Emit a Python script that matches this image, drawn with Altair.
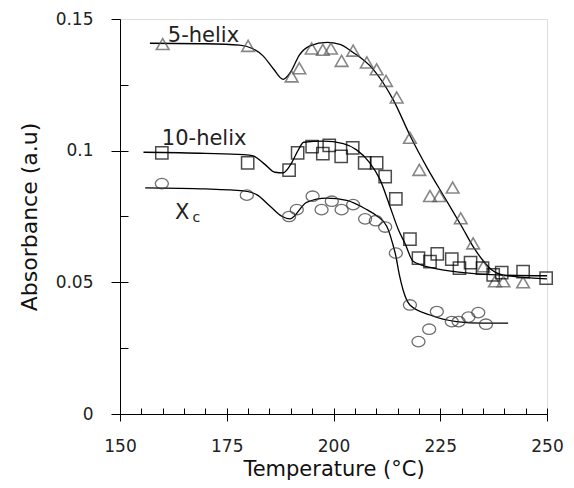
import altair as alt
import pandas as pd

# ---- data ----
tri_x = [160, 180, 190.2, 192, 194.9, 197.5, 199.4, 201.9, 204.6, 207.8, 210.1, 212.3, 214.8,
         217.9, 220.1, 222.6, 224.8, 227.9, 229.8, 232.7, 235.1, 237.8, 239.8, 244.4]
tri_y = [0.1405, 0.1398, 0.1282, 0.1313, 0.1388, 0.1383, 0.1388, 0.1341, 0.1380, 0.1335, 0.1309,
         0.1265, 0.1202, 0.1049, 0.0927, 0.0828, 0.0828, 0.0860, 0.0743, 0.0648, 0.0561, 0.0504,
         0.0504, 0.0500]

sq_x = [159.8, 179.9, 189.6, 191.6, 195.0, 197.5, 199.0, 201.8, 204.5, 207.3, 210.1, 212.1, 214.6,
        217.9, 219.9, 222.6, 224.3, 227.7, 229.5, 232.1, 234.9, 237.4, 239.4, 244.4, 249.8]
sq_y = [0.0992, 0.0954, 0.0926, 0.0992, 0.1015, 0.0989, 0.1020, 0.0978, 0.1011, 0.0954, 0.0954,
        0.0901, 0.0817, 0.0664, 0.0592, 0.0579, 0.0608, 0.0588, 0.0554, 0.0575, 0.0554, 0.0528,
        0.0537, 0.0541, 0.0516]

circ_x = [159.8, 179.7, 189.6, 191.4, 195.1, 197.2, 199.6, 201.9, 204.6, 207.4, 209.9, 212.1, 214.6,
          217.9, 219.9, 222.4, 224.2, 227.7, 229.3, 231.6, 233.9, 235.7]
circ_y = [0.0875, 0.0831, 0.0750, 0.0776, 0.0827, 0.0776, 0.0808, 0.0776, 0.0795, 0.0741, 0.0734,
          0.0710, 0.0611, 0.0414, 0.0275, 0.0322, 0.0389, 0.0351, 0.0351, 0.0368, 0.0385, 0.0341]

h5_cx = [157, 170, 178, 181, 183.5, 186, 188.2, 190, 192, 194.5, 198.5, 201.5, 204.6, 209.3, 214,
         218, 222, 226, 230, 233, 235, 237, 239.5, 243, 250]
h5_cy = [0.1408, 0.1406, 0.1401, 0.1388, 0.1360, 0.1309, 0.1271, 0.1300, 0.1363, 0.1398, 0.1411,
         0.1404, 0.1373, 0.1309, 0.1193, 0.1055, 0.0933, 0.0823, 0.0713, 0.0628, 0.0583, 0.0548,
         0.0528, 0.0521, 0.0513]

h10_cx = [155.5, 170, 178.9, 181.2, 184, 186.3, 188.2, 190.2, 191.8, 193, 197.6, 202.3, 205.4, 208.5,
          210.9, 213.2, 215.2, 216.7, 218.7, 223.4, 230.4, 238.2, 250]
h10_cy = [0.0994, 0.0990, 0.0985, 0.0980, 0.0947, 0.0918, 0.0916, 0.0954, 0.1004, 0.1032, 0.1036,
          0.1027, 0.1003, 0.0954, 0.0890, 0.0789, 0.0700, 0.0649, 0.0579, 0.0554, 0.0537, 0.0528,
          0.0525]

xc_cx = [155.9, 170, 178.9, 182, 185.1, 187.9, 189.8, 193.7, 198.4, 203.1, 207.8, 210.1, 212.5,
         213.8, 214.6, 215.4, 216.3, 217.9, 222.6, 228.8, 235, 240.9]
xc_cy = [0.0859, 0.0855, 0.0847, 0.0833, 0.0790, 0.0751, 0.0741, 0.0804, 0.0820, 0.0811, 0.0776,
         0.0753, 0.0712, 0.0650, 0.0600, 0.0530, 0.0471, 0.0414, 0.0376, 0.0351, 0.0345, 0.0345]

label_text = ["5-helix", "10-helix", "X"]
label_x = [161.2, 159.8, 162.9]
label_y = [0.1414, 0.1023, 0.0741]
sub_text = ["c"]
sub_x = [167.0]
sub_y = [0.0730]

x_ticks = [150, 175, 200, 225, 250]
x_minor = [150 + 5 * i for i in range(21)]
y_ticks = [0, 0.05, 0.1, 0.15]
y_minor = [0.025 * i for i in range(7)]

FONT = "DejaVu Sans"
xs = alt.Scale(domain=[150, 250], nice=False, zero=False)
ys = alt.Scale(domain=[0, 0.15], nice=False)

tri = pd.DataFrame({"x": tri_x, "y": tri_y})
sq = pd.DataFrame({"x": sq_x, "y": sq_y})
circ = pd.DataFrame({"x": circ_x, "y": circ_y})
c5 = pd.DataFrame({"x": h5_cx, "y": h5_cy})
c10 = pd.DataFrame({"x": h10_cx, "y": h10_cy})
cxc = pd.DataFrame({"x": xc_cx, "y": xc_cy})
labs = pd.DataFrame({"x": label_x, "y": label_y, "t": label_text})
subs = pd.DataFrame({"x": sub_x, "y": sub_y, "t": sub_text})
xt = pd.DataFrame({"x": x_minor, "y": [0] * len(x_minor)})

main_x_axis = alt.Axis(values=x_ticks, tickSize=7, labelPadding=17, title="Temperature (°C)",
                       titleFontSize=21, titleFont=FONT, titleFontWeight="normal",
                       titleX=213.5, titleY=61, titleBaseline="alphabetic", titleAnchor="middle",
                       labelFont=FONT, labelFontSize=17, labelColor="#222", titleColor="#111",
                       domainColor="black", tickColor="black", grid=False, labelFlush=False)
main_y_axis = alt.Axis(values=y_ticks, tickSize=9, labelPadding=18, format=".2~f",
                       title="Absorbance (a.u)", titleFontSize=22, titleFont=FONT,
                       titleFontWeight="normal", titleX=-91, titleY=197.5, titleBaseline="middle",
                       titleAlign="center", titleAngle=270,
                       labelFont=FONT, labelFontSize=17,
                       labelColor="#222", titleColor="#111", domainColor="black",
                       tickColor="black", grid=False, labelFlush=False)

def line(df):
    return alt.Chart(df).mark_line(color="black", strokeWidth=1.3, interpolate="monotone").encode(
        x=alt.X("x:Q", scale=xs, axis=None), y=alt.Y("y:Q", scale=ys, axis=None))

axes_layer = alt.Chart(c5).mark_point(opacity=0).encode(
    x=alt.X("x:Q", scale=xs, axis=main_x_axis),
    y=alt.Y("y:Q", scale=ys, axis=main_y_axis))

inner_x = alt.Chart(xt).mark_point(opacity=0).encode(
    x=alt.X("x:Q", scale=xs, axis=alt.Axis(orient="bottom", values=x_minor, tickSize=6, offset=-6,
                                           domain=False, labels=False, title=None, grid=False,
                                           tickColor="black")),
    y=alt.Y("y:Q", scale=ys, axis=alt.Axis(orient="left", values=y_minor, tickSize=8, offset=-8,
                                           domain=False, labels=False, title=None, grid=False,
                                           tickColor="black")))

ellipse = "M-1,0 A1,0.8 0 1,0 1,0 A1,0.8 0 1,0 -1,0 Z"

tri_l = alt.Chart(tri).mark_point(shape="triangle-up", size=160, filled=False, color="#555",
                                  strokeWidth=1.6).encode(
    x=alt.X("x:Q", scale=xs, axis=None), y=alt.Y("y:Q", scale=ys, axis=None))
sq_l = alt.Chart(sq).mark_point(shape="square", size=150, filled=False, color="black",
                                strokeWidth=1.5).encode(
    x=alt.X("x:Q", scale=xs, axis=None), y=alt.Y("y:Q", scale=ys, axis=None))
circ_l = alt.Chart(circ).mark_point(shape=ellipse, size=170, filled=False, color="#333",
                                    strokeWidth=1.3).encode(
    x=alt.X("x:Q", scale=xs, axis=None), y=alt.Y("y:Q", scale=ys, axis=None))

txt = alt.Chart(labs).mark_text(align="left", baseline="alphabetic", font=FONT, fontSize=21,
                                color="#222").encode(
    x=alt.X("x:Q", scale=xs, axis=None), y=alt.Y("y:Q", scale=ys, axis=None), text="t:N")
sub = alt.Chart(subs).mark_text(align="left", baseline="alphabetic", font=FONT, fontSize=14,
                                color="#222").encode(
    x=alt.X("x:Q", scale=xs, axis=None), y=alt.Y("y:Q", scale=ys, axis=None), text="t:N")

chart = alt.layer(
    axes_layer, inner_x, line(c5), line(c10), line(cxc), tri_l, sq_l, circ_l, txt, sub
).resolve_axis(x="independent", y="independent").properties(
    width=427, height=395,
    autosize=alt.AutoSizeParams(type="none"),
    padding={"left": 112, "top": 11, "right": 18, "bottom": 66},
).configure_view(stroke="#333", strokeWidth=1).configure(background="white")

chart.save("out.html", embed_options={"renderer": "svg", "actions": False})
